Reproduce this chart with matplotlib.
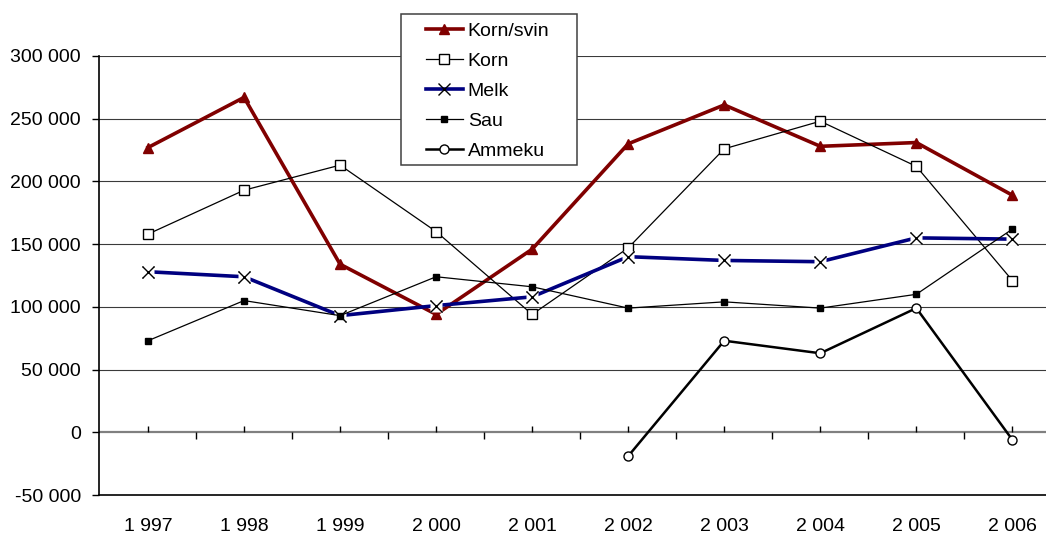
import matplotlib
matplotlib.use("Agg")
import matplotlib.pyplot as plt
from matplotlib.patches import Rectangle
from matplotlib.ticker import FuncFormatter
import numpy as np

plt.rcParams["font.family"] = ["Liberation Sans", "DejaVu Sans"]

# Data
years = [1997, 1998, 1999, 2000, 2001, 2002, 2003, 2004, 2005, 2006]
korn_svin = [227000, 267000, 134000, 94000, 146000, 230000, 261000, 228000, 231000, 189000]
korn = [158000, 193000, 213000, 160000, 94000, 147000, 226000, 248000, 212000, 121000]
melk = [128000, 124000, 93000, 101000, 108000, 140000, 137000, 136000, 155000, 154000]
sau = [73000, 105000, 93000, 124000, 116000, 99000, 104000, 99000, 110000, 162000]
ammeku = [np.nan, np.nan, np.nan, np.nan, np.nan, -19000, 73000, 63000, 99000, -6000]


def space_thousands(v, pos=None):
    # Norwegian style: space as thousands separator
    return f"{int(round(v)):,}".replace(",", " ")


x = np.arange(len(years))

fig = plt.figure(figsize=(10.46, 5.37), dpi=100)
ax = fig.add_axes([99 / 1046, 42 / 537, 1 - 99 / 1046, (495 - 56) / 537])

# gridlines
for v in range(50000, 300001, 50000):
    ax.axhline(v, color="#3a3a3a", lw=0.8, zorder=1)
ax.axhline(0, color="#808080", lw=1.6, zorder=1)

# series
h1, = ax.plot(x, korn_svin, color="#800000", lw=2.6, marker="^", ms=7,
              mfc="#800000", mec="#800000", label="Korn/svin", zorder=3)
h2, = ax.plot(x, korn, color="black", lw=0.9, marker="s", ms=6.5,
              mfc="white", mec="black", mew=1.0, label="Korn", zorder=3)
h3, = ax.plot(x, melk, color="#000080", lw=2.6, marker="x", ms=8.5,
              mec="black", mew=1.0, label="Melk", zorder=3)
# white box behind the X markers, as the original draws them
ax.plot(x, melk, ls="none", marker="s", ms=8.5, mfc="white", mec="none", zorder=3)
ax.plot(x, melk, ls="none", marker="x", ms=8.5, mec="black", mew=1.0, zorder=3)
h4, = ax.plot(x, sau, color="black", lw=0.9, marker="s", ms=4.5,
              mfc="black", mec="black", label="Sau", zorder=3)
h5, = ax.plot(x, ammeku, color="black", lw=1.8, marker="o", ms=6.5,
              mfc="white", mec="black", mew=1.0, label="Ammeku", zorder=3)

# category tick marks on the zero line
ax.plot(x, np.zeros(len(x)), ls="none", marker=2, ms=4, color="black", mew=1, zorder=2)
ax.plot(x[:-1] + 0.5, np.zeros(len(x) - 1), ls="none", marker=3, ms=5, color="black", mew=1, zorder=2)

ax.set_xlim(-0.51, 9.35)
ax.set_ylim(-50000, 300000)
ax.set_yticks(range(-50000, 300001, 50000))
ax.yaxis.set_major_formatter(FuncFormatter(space_thousands))
ax.set_xticks(x)
ax.set_xticklabels([space_thousands(y) for y in years])

ax.tick_params(axis="y", length=5, width=1, pad=8, labelsize=14, color="black")
ax.tick_params(axis="x", length=0, pad=16.5, labelsize=14)

for s in ["top", "right"]:
    ax.spines[s].set_visible(False)
ax.spines["left"].set_linewidth(1.2)
ax.spines["bottom"].set_linewidth(1.2)

# legend with a boxed frame
fig.add_artist(Rectangle((401 / 1046, 1 - 165 / 537), 176 / 1046, 151 / 537,
                         transform=fig.transFigure, facecolor="white",
                         edgecolor="#404040", lw=1.1, zorder=4))
fig.legend([h1, h2, h3, h4, h5], ["Korn/svin", "Korn", "Melk", "Sau", "Ammeku"],
           loc="upper left", bbox_to_anchor=(426 / 1046, 1 - 22 / 537),
           frameon=False, fontsize=14, handlelength=1.9, handletextpad=0.25,
           labelspacing=0.64, borderpad=0, borderaxespad=0)

fig.savefig("out.png", dpi=100)
